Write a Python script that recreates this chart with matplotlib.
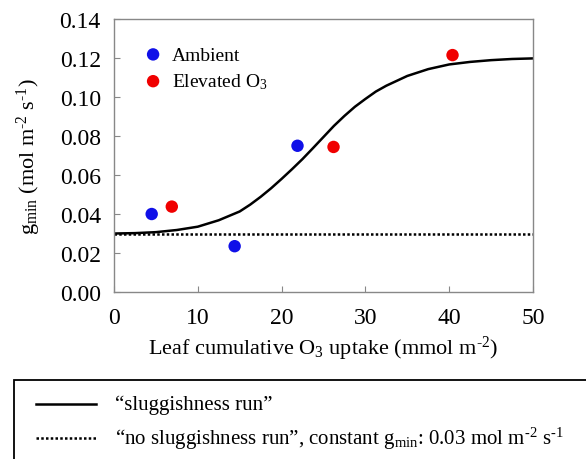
import matplotlib
matplotlib.use("Agg")
import matplotlib.pyplot as plt
from matplotlib.lines import Line2D
from matplotlib.patches import Rectangle

plt.rcParams['font.family'] = ['Liberation Serif', 'DejaVu Serif']
plt.rcParams['mathtext.fontset'] = 'custom'
plt.rcParams['mathtext.rm'] = 'Liberation Serif'
plt.rcParams['mathtext.it'] = 'Liberation Serif:italic'

# Observations
ambient_x = [4.5, 14.4, 21.9]
ambient_y = [0.040, 0.0235, 0.075]
elevated_x = [6.9, 26.2, 40.4]
elevated_y = [0.0438, 0.0744, 0.1215]

# Model "sluggishness run" curve
curve_x = [0, 2.5, 5, 7.5, 10, 12.5, 15, 16.25, 17.5, 18.75, 20, 21.25, 22.5, 23.75,
           25, 26.25, 27.5, 28.75, 30, 31.25, 32.5, 35, 37.5, 40, 42.5, 45, 47.5, 50]
curve_y = [0.0300, 0.0302, 0.0307, 0.0318, 0.0335, 0.0368, 0.0413, 0.0448, 0.0488,
           0.0532, 0.0580, 0.0630, 0.0682, 0.0738, 0.0795, 0.0852, 0.0903, 0.0950,
           0.0990, 0.1028, 0.1058, 0.1108, 0.1143, 0.1167, 0.1180, 0.1189, 0.1195, 0.1198]

# Constant gmin "no sluggishness run"
const_x = [0, 50]
const_y = [0.03, 0.03]

xticks = [0, 10, 20, 30, 40, 50]
yticks = [0.00, 0.02, 0.04, 0.06, 0.08, 0.10, 0.12, 0.14]

H = '\u2010'  # hyphen used in superscripts

fig = plt.figure(figsize=(5.86, 4.60), dpi=100)
ax = fig.add_axes([0.1945, 0.363, 0.715, 0.5935])

ax.plot(curve_x, curve_y, color='black', lw=1.8, zorder=2)
ax.plot(const_x, const_y, color='black', lw=1.8, linestyle=(0, (1, 0.9)), zorder=2)
ax.scatter(ambient_x, ambient_y, s=80, color='#1010e8', edgecolors='none', zorder=3, label='Ambient')
ax.scatter(elevated_x, elevated_y, s=80, color='#f00000', edgecolors='none', zorder=3,
           label=r'Elevated O$\mathregular{_3}$')

ax.set_xlim(0, 50)
ax.set_ylim(0, 0.14)
ax.set_xticks(xticks)
ax.set_yticks(yticks)
ax.set_xticklabels([str(v) for v in xticks], fontsize=17)
ax.set_yticklabels(['%.2f' % v for v in yticks], fontsize=17)
ax.tick_params(direction='in', length=4, color='#888888')
ax.tick_params(axis='y', pad=9.5)
ax.tick_params(axis='x', pad=11)
for sp in ax.spines.values():
    sp.set_color('#888888')
    sp.set_linewidth(1.0)

ax.set_xlabel('Leaf cumulative O$\\mathregular{_3}$ uptake (mmol m$\\mathregular{^{' + H + '2}}$)',
              fontsize=16, labelpad=4)
ax.set_ylabel('g$\\mathregular{_{min}}$ (mol m$\\mathregular{^{' + H + '2}}$ s$\\mathregular{^{' + H + '1}}$)',
              fontsize=16, labelpad=12)

ax.legend(loc='upper left', bbox_to_anchor=(0.04, 0.93), frameon=False, fontsize=14,
          handlelength=1.5, handletextpad=0.23, labelspacing=0.4, borderaxespad=0,
          scatterpoints=1)

# Bottom legend box
fig.patches.append(Rectangle((14/586, -0.2), 1.2, 0.2 + 1 - 381/460, transform=fig.transFigure,
                             fill=False, edgecolor='black', lw=1.3, clip_on=False))
y1 = 1 - 405/460
y2 = 1 - 439/460
fig.lines.append(Line2D([36/586, 96/586], [y1, y1], transform=fig.transFigure, color='black', lw=1.8))
fig.lines.append(Line2D([36/586, 96/586], [y2, y2], transform=fig.transFigure, color='black', lw=1.8,
                        linestyle=(0, (1, 0.9))))
fig.text(115/586, y1, '\u201csluggishness run\u201d', fontsize=15, va='center', ha='left')
fig.text(115/586, y2, '\u201cno sluggishness run\u201d, constant g$\\mathregular{_{min}}$: 0.03 mol m$\\mathregular{^{'
         + H + '2}}$ s$\\mathregular{^{' + H + '1}}$',
         fontsize=15, va='center', ha='left')

fig.savefig('out.png', dpi=100)
